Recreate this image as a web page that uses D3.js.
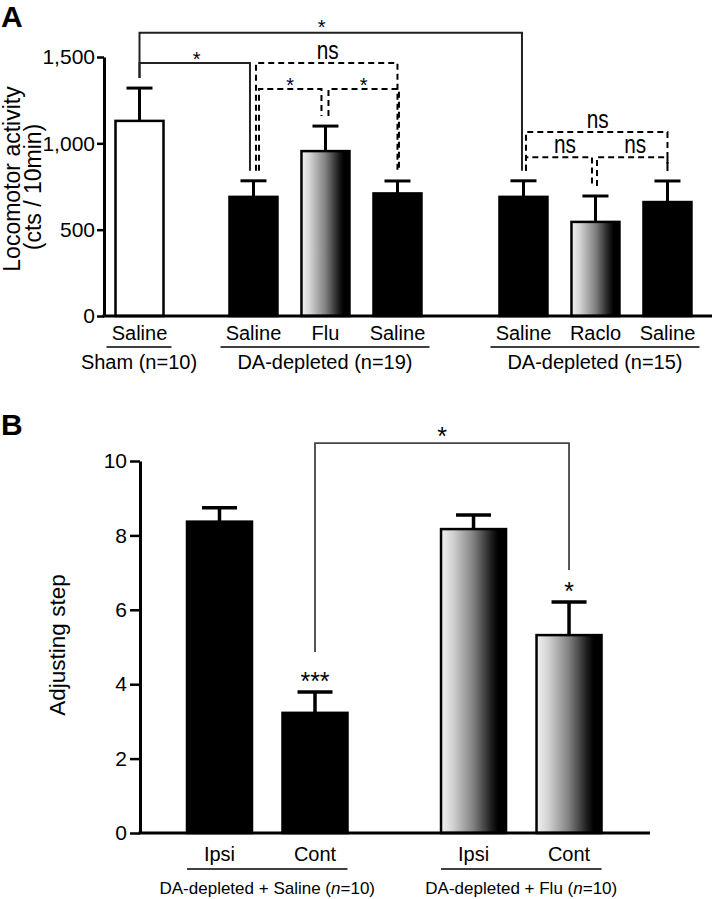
<!DOCTYPE html>
<html><head><meta charset="utf-8">
<script src="https://cdn.jsdelivr.net/npm/d3@7"></script>
<style>
body{margin:0;background:#fff}
svg{display:block}
text{font-family:"Liberation Sans",Arial,Helvetica,sans-serif;fill:#000}
</style>
</head><body>
<svg id="c" width="712" height="899"></svg>
<script>
// ---------- Panel A data ----------
const aTreatments = ["Saline","Saline","Flu","Saline","Saline","Raclo","Saline"];
const aGroupOfBar = [0,1,1,1,2,2,2];
const aGroups = ["Sham (n=10)","DA-depleted (n=19)","DA-depleted (n=15)"];
const aMeans = [1130,690,955,710,690,545,660];
const aSEM = [190,93,145,72,93,150,122];
const aTicks = [0,500,1000,1500];
const aYTitle = ["Locomotor activity","(cts / 10min)"];
// comparisons: bar indices, level (counts), label, dashed
const aBrackets = [
  {from:0,to:4,level:1640,label:"*",dashed:false},
  {from:0,to:1,level:1465,label:"*",dashed:false},
  {from:1,to:3,level:1465,label:"ns",dashed:true},
  {from:1,to:2,level:1314,label:"*",dashed:true},
  {from:2,to:3,level:1314,label:"*",dashed:true},
  {from:4,to:6,level:1065,label:"ns",dashed:true},
  {from:4,to:5,level:920,label:"ns",dashed:true},
  {from:5,to:6,level:920,label:"ns",dashed:true}
];
// ---------- Panel B data ----------
const bSides = ["Ipsi","Cont","Ipsi","Cont"];
const bGroupOfBar = [0,0,1,1];
const bGroups = ["DA-depleted + Saline","DA-depleted + Flu"];
const bGroupN = ["10","10"];
const bMeans = [8.37,3.23,8.17,5.32];
const bSEM = [0.37,0.56,0.38,0.89];
const bSig = ["","***","","*"];
const bTicks = [0,2,4,6,8,10];
const bYTitle = "Adjusting step";
const bBracket = {from:1,to:3,level:10.48,label:"*"};

// ---------- layout ----------
const FONT = '"Liberation Sans",Arial,Helvetica,sans-serif';
const svg = d3.select("#c");
const defs = svg.append("defs");
const grad = defs.append("linearGradient").attr("id","grad")
  .attr("x1","0").attr("x2","1").attr("y1","0").attr("y2","0");
[[0,"#f2f2f2"],[0.18,"#d2d2d2"],[0.5,"#808080"],[0.78,"#1c1c1c"],[0.88,"#000"],[1,"#000"]]
  .forEach(([o,c]) => grad.append("stop").attr("offset",o).attr("stop-color",c));

function txt(g, x, y, s, size, anchor, extra){
  const t = g.append("text").attr("x",x).attr("y",y).attr("font-size",size)
    .attr("text-anchor",anchor||"middle").text(s);
  if (extra) extra(t);
  return t;
}

// ===== Panel A =====
const gA = svg.append("g");
const groupOffsetA = [0,0.583,1.333];
const slotA = i => i + groupOffsetA[aGroupOfBar[i]];
const xA = d3.scaleLinear().domain([0,1]).range([139.5,211.5]);
const yA = d3.scaleLinear().domain([0,1500]).range([316,57]);
const bwA = 48, capA = 26;
const fillA = i => aGroupOfBar[i]===0 ? "#fff" :
  (aTreatments[i]==="Flu"||aTreatments[i]==="Raclo" ? "url(#grad)" : "#000");

txt(gA, 1, 27, "A", 30, "start", t=>t.attr("font-weight","bold"));

// bars
gA.selectAll("rect.bar").data(aMeans).join("rect").attr("class","bar")
  .attr("x",(d,i)=>xA(slotA(i))-bwA/2).attr("width",bwA)
  .attr("y",d=>yA(d)).attr("height",d=>yA(0)-yA(d))
  .attr("fill",(d,i)=>fillA(i)).attr("stroke","#000").attr("stroke-width",2.5);
// error bars
aMeans.forEach((m,i)=>{
  const cx = xA(slotA(i));
  gA.append("line").attr("x1",cx).attr("x2",cx).attr("y1",yA(m)).attr("y2",yA(m+aSEM[i]))
    .attr("stroke","#000").attr("stroke-width",3);
  gA.append("line").attr("x1",cx-capA/2).attr("x2",cx+capA/2).attr("y1",yA(m+aSEM[i])).attr("y2",yA(m+aSEM[i]))
    .attr("stroke","#000").attr("stroke-width",3);
});
// axis
const axA = gA.append("g").attr("transform","translate(104,0)")
  .call(d3.axisLeft(yA).tickValues(aTicks).tickFormat(d3.format(",")).tickSize(7).tickSizeOuter(0).tickPadding(2));
axA.select(".domain").attr("stroke-width",3);
axA.selectAll(".tick line").attr("stroke-width",2.5);
axA.selectAll(".tick text").attr("font-size",21).attr("font-family",FONT).attr("fill","#000");
gA.append("line").attr("x1",102.5).attr("x2",712).attr("y1",yA(0)).attr("y2",yA(0))
  .attr("stroke","#000").attr("stroke-width",3);
// y title
txt(gA,0,0,aYTitle[0],23,"middle",t=>t.attr("transform","translate(20,179) rotate(-90)"));
txt(gA,0,0,aYTitle[1],23,"middle",t=>t.attr("transform","translate(41,187) rotate(-90)"));
// x labels
aTreatments.forEach((s,i)=> txt(gA, xA(slotA(i)), 340, s, 20));
aGroups.forEach((s,gi)=>{
  const idx = aGroupOfBar.map((g,i)=>g===gi?i:-1).filter(i=>i>=0);
  const x0 = xA(slotA(idx[0]))-bwA/2-9, x1 = xA(slotA(idx[idx.length-1]))+bwA/2+8;
  gA.append("line").attr("x1",x0).attr("x2",x1).attr("y1",347).attr("y2",347)
    .attr("stroke","#000").attr("stroke-width",1.5);
  txt(gA,(x0+x1)/2,369,s,20);
});
// brackets
const legNudge = [[0,-1.5],[0,-3.5],[2.5,0],[5.5,-4],[3,1.5],[2.5,0],[2.5,-3.5],[1.5,0]];
const labelNudge = [[-9,-2],[2,0],[1,0],[0,0],[0,0],[1,0],[6,0],[3,0]];
aBrackets.forEach((b,k)=>{
  const xl = xA(slotA(b.from))+legNudge[k][0], xr = xA(slotA(b.to))+legNudge[k][1];
  const yl = yA(aMeans[b.from]+aSEM[b.from])-10, yr = yA(aMeans[b.to]+aSEM[b.to])-10;
  const yb = yA(b.level);
  gA.append("path").attr("d",`M${xl},${yl}V${yb}H${xr}V${yr}`)
    .attr("fill","none").attr("stroke", b.dashed?"#000":"#222").attr("stroke-width",2)
    .attr("stroke-dasharray", b.dashed?"6,4":null);
  const mx = (xl+xr)/2 + labelNudge[k][0];
  if (b.label==="ns") {
    gA.append("text").attr("transform",`translate(${mx},${yb-4+labelNudge[k][1]}) scale(0.8,1)`)
      .attr("font-size",26).attr("text-anchor","middle").text("ns");
  } else {
    txt(gA,mx,yb+3+labelNudge[k][1],b.label,20);
  }
});

// ===== Panel B =====
const gB = svg.append("g");
const groupOffsetB = [0,0.66];
const slotB = i => i + groupOffsetB[bGroupOfBar[i]];
const xB = d3.scaleLinear().domain([0,1]).range([219.5,315]);
const yB = d3.scaleLinear().domain([0,10]).range([833,461]);
const bwB = 65, capB = 35;
const fillB = i => bGroupOfBar[i]===0 ? "#000" : "url(#grad)";

txt(gB, 1, 435, "B", 30, "start", t=>t.attr("font-weight","bold"));

gB.selectAll("rect.bar").data(bMeans).join("rect").attr("class","bar")
  .attr("x",(d,i)=>xB(slotB(i))-bwB/2).attr("width",bwB)
  .attr("y",d=>yB(d)).attr("height",d=>yB(0)-yB(d))
  .attr("fill",(d,i)=>fillB(i)).attr("stroke","#000").attr("stroke-width",2.5);
bMeans.forEach((m,i)=>{
  const cx = xB(slotB(i)), yc = yB(m+bSEM[i]);
  gB.append("line").attr("x1",cx).attr("x2",cx).attr("y1",yB(m)).attr("y2",yc)
    .attr("stroke","#000").attr("stroke-width",3.5);
  gB.append("line").attr("x1",cx-capB/2).attr("x2",cx+capB/2).attr("y1",yc).attr("y2",yc)
    .attr("stroke","#000").attr("stroke-width",3.5);
  if (bSig[i]) txt(gB,cx,yc-2,bSig[i],25);
});
const axB = gB.append("g").attr("transform","translate(140,0)")
  .call(d3.axisLeft(yB).tickValues(bTicks).tickSize(10).tickSizeOuter(0).tickPadding(3));
axB.select(".domain").attr("stroke-width",3);
axB.selectAll(".tick line").attr("stroke-width",2.5);
axB.selectAll(".tick text").attr("font-size",21).attr("font-family",FONT).attr("fill","#000");
gB.append("line").attr("x1",138.5).attr("x2",650).attr("y1",yB(0)).attr("y2",yB(0))
  .attr("stroke","#000").attr("stroke-width",3);
txt(gB,0,0,bYTitle,22.5,"middle",t=>t.attr("transform","translate(65,645) rotate(-90)"));
bSides.forEach((s,i)=> txt(gB, xB(slotB(i)), 861, s, 20));
bGroups.forEach((s,gi)=>{
  const idx = bGroupOfBar.map((g,i)=>g===gi?i:-1).filter(i=>i>=0);
  const x0 = xB(slotB(idx[0]))-bwB/2, x1 = xB(slotB(idx[idx.length-1]))+bwB/2;
  gB.append("line").attr("x1",x0).attr("x2",x1).attr("y1",869).attr("y2",869)
    .attr("stroke","#000").attr("stroke-width",1.5);
  const t = gB.append("text").attr("x",(x0+x1)/2).attr("y",894).attr("font-size",17).attr("text-anchor","middle");
  t.append("tspan").text(s+" (");
  t.append("tspan").attr("font-style","italic").text("n");
  t.append("tspan").text("="+bGroupN[gi]+")");
});
{
  const xl = xB(slotB(bBracket.from)), xr = xB(slotB(bBracket.to));
  const yl = yB(bMeans[bBracket.from]+bSEM[bBracket.from])-40;
  const yr = yB(bMeans[bBracket.to]+bSEM[bBracket.to])-32;
  const yb = yB(bBracket.level);
  gB.append("path").attr("d",`M${xl},${yl}V${yb}H${xr}V${yr}`)
    .attr("fill","none").attr("stroke","#444").attr("stroke-width",1.8);
  txt(gB,(xl+xr)/2,yb+2,bBracket.label,25);
}
</script>
</body></html>
